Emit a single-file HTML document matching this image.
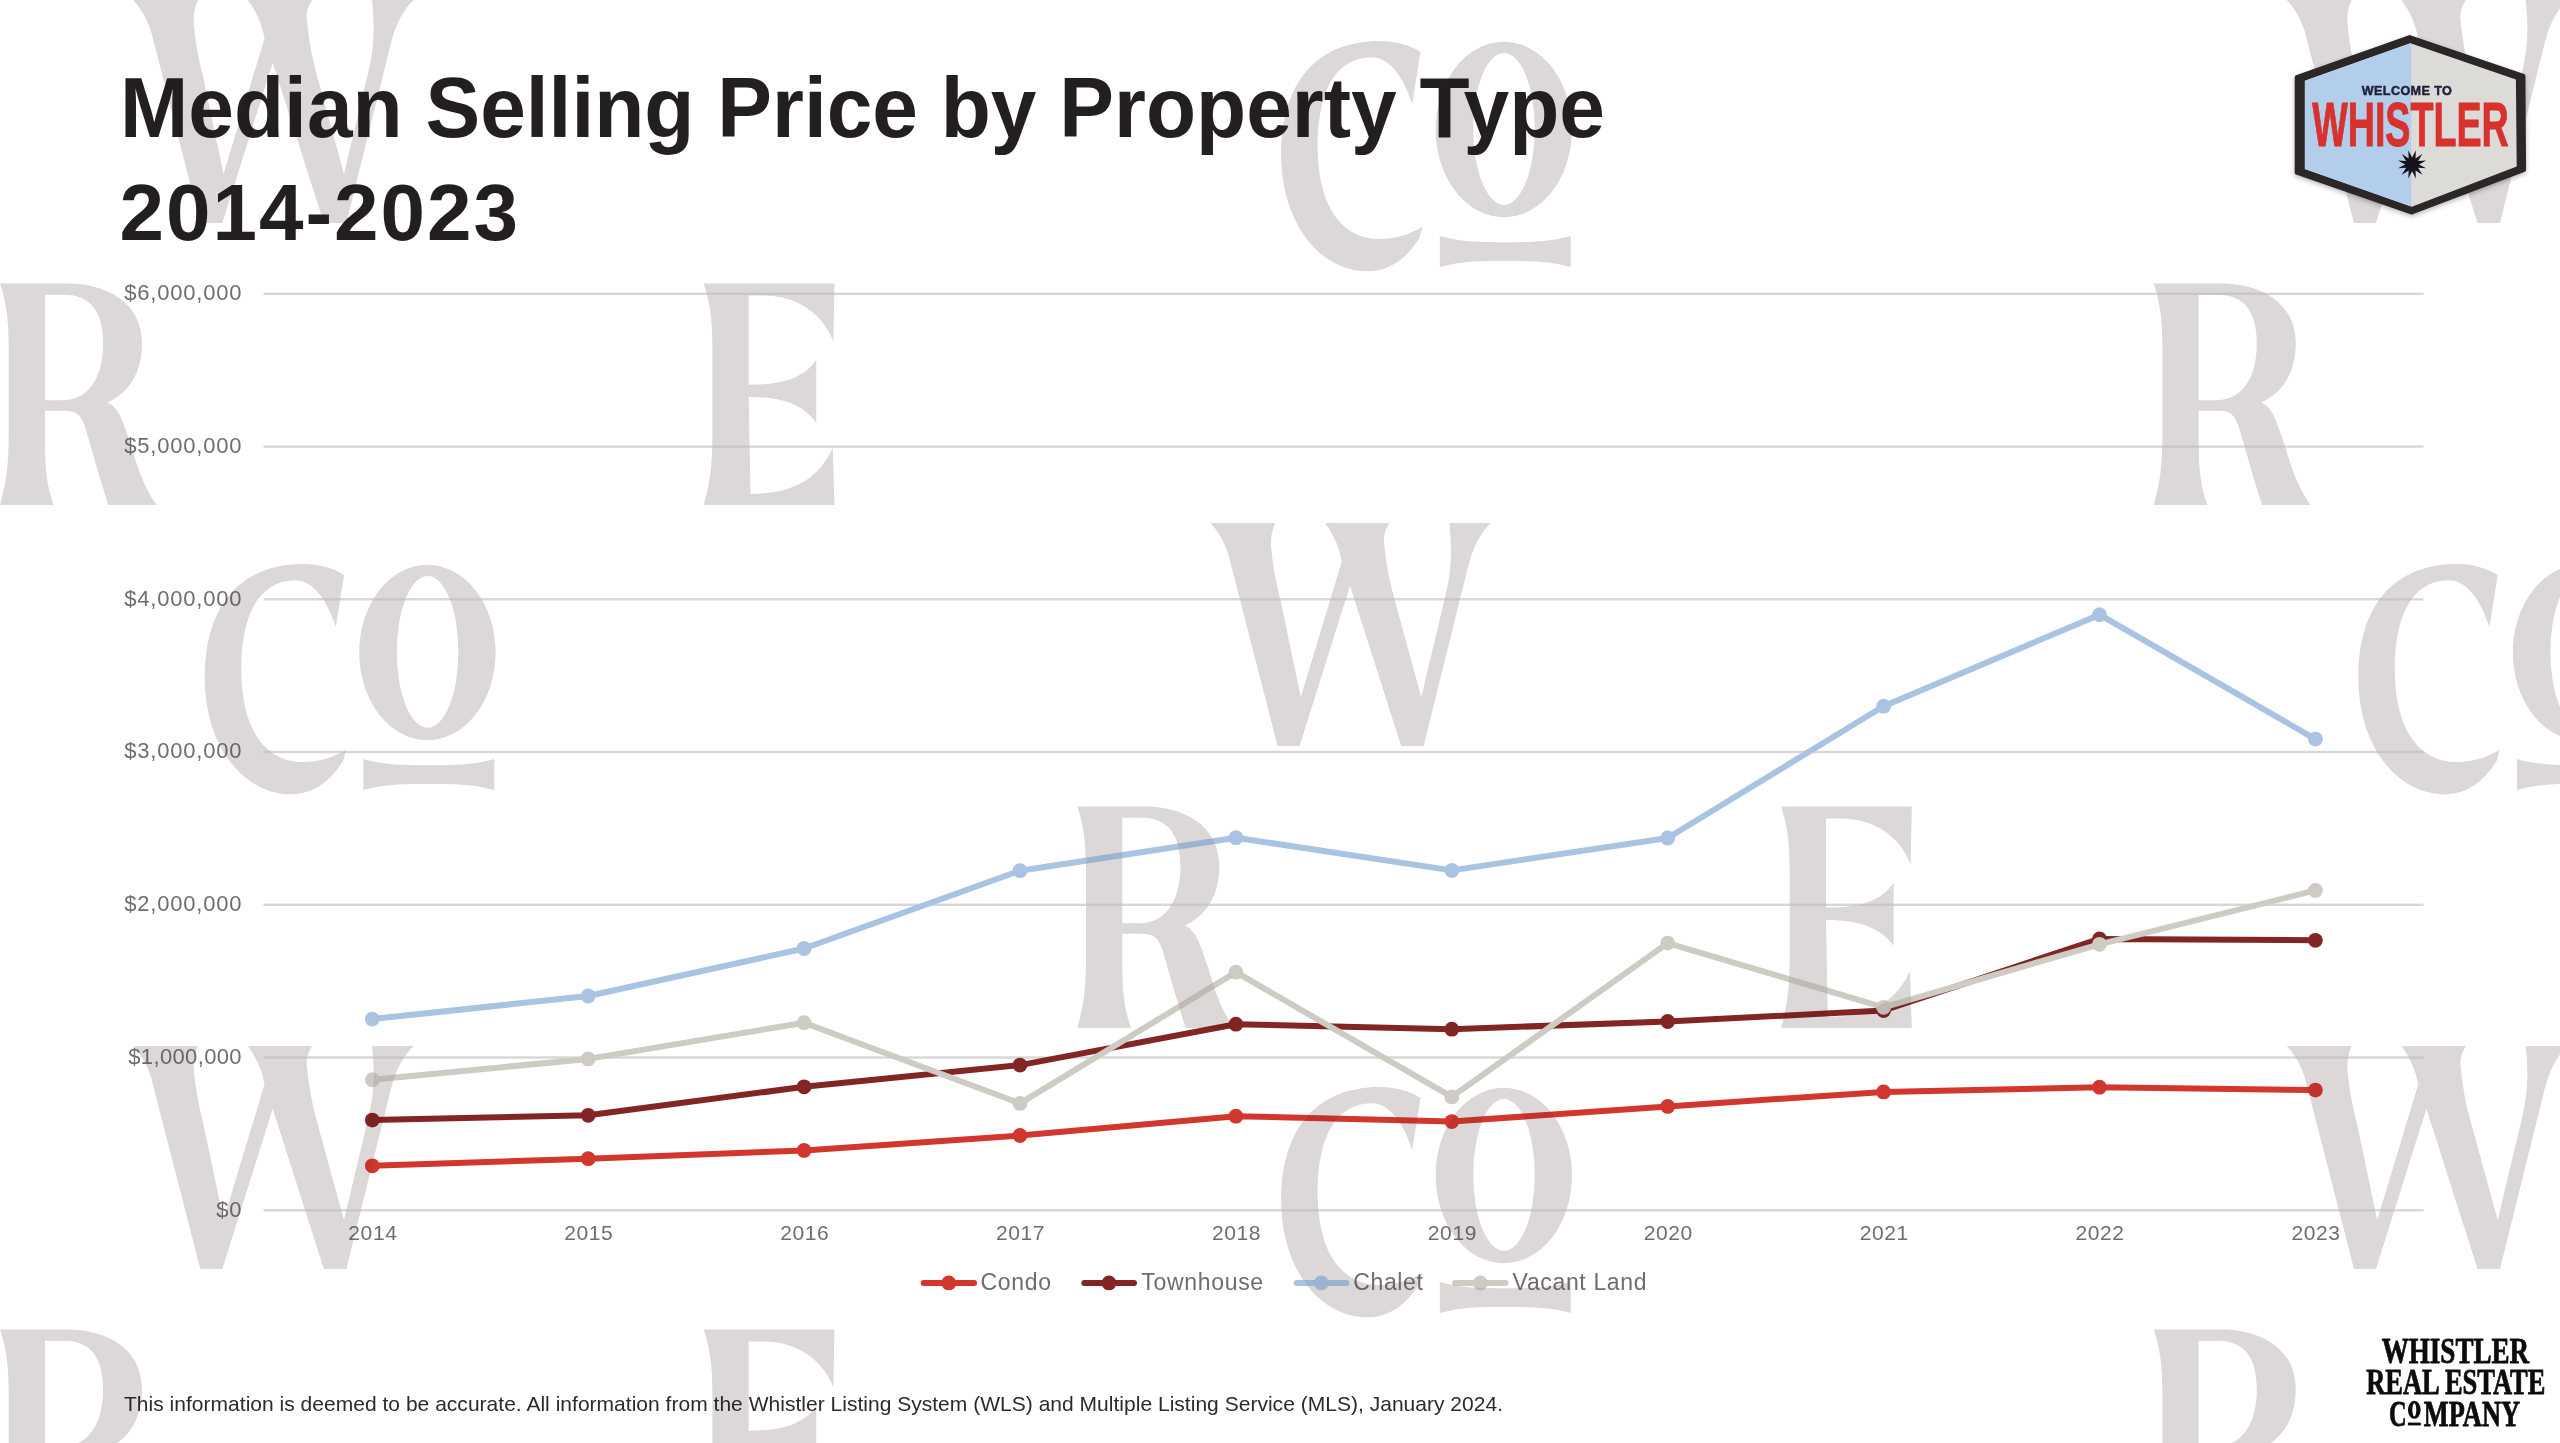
<!DOCTYPE html>
<html><head><meta charset="utf-8"><title>Median Selling Price by Property Type 2014-2023</title>
<style>
html,body{margin:0;padding:0;background:#fff;}
body{width:2560px;height:1443px;position:relative;overflow:hidden;font-family:"Liberation Sans",sans-serif;}
svg{position:absolute;left:0;top:0;}
.t{position:absolute;white-space:nowrap;}
.title{position:absolute;left:120px;font-weight:bold;font-size:81px;color:#231f20;white-space:nowrap;line-height:1;transform-origin:0 0;}
.yl{position:absolute;left:40px;width:202.3px;letter-spacing:0.8px;text-align:right;font-size:22px;line-height:28px;color:#716d6c;white-space:nowrap;}
.xl{position:absolute;top:1219.3px;width:80px;padding-left:0.6px;text-align:center;letter-spacing:0.6px;font-size:21px;line-height:28px;color:#716d6c;}
.lg{position:absolute;top:1266px;font-size:23px;line-height:32px;color:#716d6c;white-space:nowrap;}
.foot{position:absolute;left:124px;top:1390.5px;font-size:21px;letter-spacing:0.02px;line-height:26px;color:#2d2a2b;white-space:nowrap;transform-origin:0 0;}
.wm{mix-blend-mode:multiply;}
</style></head><body>
<!--WATERMARK (bottom)-->
<svg width="2560" height="1443" viewBox="0 0 2560 1443">
<defs>
<path id="w" d="M0,0 L64.9,0 Q60,11 60.7,23 Q63,50 70.1,76.7 L90.5,174 L131.5,38.5 Q128,18 114.9,0 L179.2,0 Q172.5,10 173.8,20 Q177,52 184.3,76.7 L211,174 L236,69 Q243.5,38 239,0 L280.5,0 Q265,15 258.2,42 L213.3,223 L190.9,223 L139.7,62.8 L89.3,223 L67.3,223 L18.1,31.6 Q12,12 0,0 Z"/>
<path id="r" fill-rule="evenodd" d="M0,0 L67.6,0 C105,0 142,18 142,59.8 C142,90 128,110 107.4,119 C119,124 123,138 129.9,158.5 C138,185 143,202 156.8,221.7 L108.3,221.7 C100,196 93,170 84.9,142.9 C81,131 76,127.3 64,127.3 L45,127.3 L45,160 C45,190 48,205 53.7,221.7 L0,221.7 C6,200 8.7,185 8.7,149.8 L8.7,63.2 C8.7,35 6,18 0,0 Z M45,11.3 L64,11.3 C92,11.3 103.1,30 103.1,59.8 C103.1,95 88,116.9 62,116.9 L45,116.9 Z"/>
<path id="e" d="M0,0 L130.8,0 L129.6,58 C120,32 95,12.1 60,12.1 L45,12.1 L45,101.3 C80,101.3 100,95 112.6,76.2 L112.6,139.4 C100,122 80,113.5 45,113.5 L46.8,210.5 C90,210.5 115,195 129,164.6 L130.8,221.7 L0,221.7 C6,200 8.7,185 8.7,149.8 L8.7,63.2 C8.7,35 6,18 0,0 Z"/>
<g id="co"><path d="M139.3,11 L131,63 C122,35 108,16.2 90.4,16.2 C55,16.2 36.4,50 36.4,105 C36.4,165 60,198.1 98.7,198.1 C115,198.1 130,193 141.3,185.6 L138.2,197 C125,218 108,230.3 86.3,230.3 C38,230.3 0,181 0,113.9 C0,41 36,0 98.7,0 C115,0 128,4 139.3,11 Z"/><path fill-rule="evenodd" d="M154.4,88.5 A68.2,87.7 0 1,0 290.8,88.5 A68.2,87.7 0 1,0 154.4,88.5 Z M192,87.9 A30.8,75.9 0 1,1 253.6,87.9 A30.8,75.9 0 1,1 192,87.9 Z"/><path d="M158.6,195 C180,201.2 200,201.2 224,201.2 C248,201.2 268,201.2 289.5,195 L289.5,226.1 C268,219.9 248,219.9 224,219.9 C200,219.9 180,219.9 158.6,226.1 Z"/></g>
</defs>
<g id="wmall" fill="#edebeb">
<use href="#w" x="133.0" y="0.0"/>
<use href="#co" x="1281.2" y="41.0"/>
<use href="#r" x="0.0" y="283.4"/>
<use href="#e" x="703.7" y="283.4"/>
<use href="#w" x="133.0" y="1046.0"/>
<use href="#co" x="1281.2" y="1087.0"/>
<use href="#r" x="0.0" y="1329.4"/>
<use href="#e" x="703.7" y="1329.4"/>
<use href="#w" x="2286.7" y="0.0"/>
<use href="#r" x="2153.7" y="283.4"/>
<use href="#w" x="2286.7" y="1046.0"/>
<use href="#r" x="2153.7" y="1329.4"/>
<use href="#co" x="204.8" y="564.0"/>
<use href="#r" x="1077.3" y="-239.6"/>
<use href="#e" x="1781.0" y="-239.6"/>
<use href="#w" x="1210.3" y="523.0"/>
<use href="#co" x="2358.4" y="564.0"/>
<use href="#r" x="1077.3" y="806.4"/>
<use href="#e" x="1781.0" y="806.4"/>
</g>
</svg>
<!--CHART-->
<svg width="2560" height="1443" viewBox="0 0 2560 1443">
<rect x="263.5" y="292.6" width="2160" height="2.4" fill="#d8d7d7"/>
<rect x="263.5" y="445.4" width="2160" height="2.4" fill="#d8d7d7"/>
<rect x="263.5" y="598.1" width="2160" height="2.4" fill="#d8d7d7"/>
<rect x="263.5" y="750.8" width="2160" height="2.4" fill="#d8d7d7"/>
<rect x="263.5" y="903.6" width="2160" height="2.4" fill="#d8d7d7"/>
<rect x="263.5" y="1056.3" width="2160" height="2.4" fill="#d8d7d7"/>
<rect x="263.5" y="1209.1" width="2160" height="2.4" fill="#d8d7d7"/>
<polyline points="372.3,1165.8 588.2,1158.7 804.1,1150.4 1020.0,1135.5 1235.9,1116.2 1451.8,1121.6 1667.7,1106.4 1883.6,1091.9 2099.5,1087.2 2315.4,1090.1" fill="none" stroke="#d2372e" stroke-width="6" stroke-linejoin="round" stroke-linecap="round"/>
<circle cx="372.3" cy="1165.8" r="7.4" fill="#d2372e"/>
<circle cx="588.2" cy="1158.7" r="7.4" fill="#d2372e"/>
<circle cx="804.1" cy="1150.4" r="7.4" fill="#d2372e"/>
<circle cx="1020.0" cy="1135.5" r="7.4" fill="#d2372e"/>
<circle cx="1235.9" cy="1116.2" r="7.4" fill="#d2372e"/>
<circle cx="1451.8" cy="1121.6" r="7.4" fill="#d2372e"/>
<circle cx="1667.7" cy="1106.4" r="7.4" fill="#d2372e"/>
<circle cx="1883.6" cy="1091.9" r="7.4" fill="#d2372e"/>
<circle cx="2099.5" cy="1087.2" r="7.4" fill="#d2372e"/>
<circle cx="2315.4" cy="1090.1" r="7.4" fill="#d2372e"/>
<polyline points="372.3,1120.1 588.2,1115.3 804.1,1086.8 1020.0,1065.1 1235.9,1024.2 1451.8,1029.2 1667.7,1021.5 1883.6,1010.5 2099.5,938.9 2315.4,940.3" fill="none" stroke="#832524" stroke-width="6" stroke-linejoin="round" stroke-linecap="round"/>
<circle cx="372.3" cy="1120.1" r="7.4" fill="#832524"/>
<circle cx="588.2" cy="1115.3" r="7.4" fill="#832524"/>
<circle cx="804.1" cy="1086.8" r="7.4" fill="#832524"/>
<circle cx="1020.0" cy="1065.1" r="7.4" fill="#832524"/>
<circle cx="1235.9" cy="1024.2" r="7.4" fill="#832524"/>
<circle cx="1451.8" cy="1029.2" r="7.4" fill="#832524"/>
<circle cx="1667.7" cy="1021.5" r="7.4" fill="#832524"/>
<circle cx="1883.6" cy="1010.5" r="7.4" fill="#832524"/>
<circle cx="2099.5" cy="938.9" r="7.4" fill="#832524"/>
<circle cx="2315.4" cy="940.3" r="7.4" fill="#832524"/>
<polyline points="372.3,1019.1 588.2,996.0 804.1,948.5 1020.0,870.7 1235.9,837.7 1451.8,870.4 1667.7,838.0 1883.6,706.2 2099.5,614.7 2315.4,739.1" fill="none" stroke="#a9c3e3" stroke-width="6" stroke-linejoin="round" stroke-linecap="round"/>
<circle cx="372.3" cy="1019.1" r="7.4" fill="#a9c3e3"/>
<circle cx="588.2" cy="996.0" r="7.4" fill="#a9c3e3"/>
<circle cx="804.1" cy="948.5" r="7.4" fill="#a9c3e3"/>
<circle cx="1020.0" cy="870.7" r="7.4" fill="#a9c3e3"/>
<circle cx="1235.9" cy="837.7" r="7.4" fill="#a9c3e3"/>
<circle cx="1451.8" cy="870.4" r="7.4" fill="#a9c3e3"/>
<circle cx="1667.7" cy="838.0" r="7.4" fill="#a9c3e3"/>
<circle cx="1883.6" cy="706.2" r="7.4" fill="#a9c3e3"/>
<circle cx="2099.5" cy="614.7" r="7.4" fill="#a9c3e3"/>
<circle cx="2315.4" cy="739.1" r="7.4" fill="#a9c3e3"/>
<polyline points="372.3,1079.7 588.2,1058.9 804.1,1022.7 1020.0,1103.4 1235.9,972.2 1451.8,1096.9 1667.7,943.1 1883.6,1007.3 2099.5,944.3 2315.4,890.4" fill="none" stroke="#cecbc4" stroke-width="6" stroke-linejoin="round" stroke-linecap="round"/>
<circle cx="372.3" cy="1079.7" r="7.4" fill="#cecbc4"/>
<circle cx="588.2" cy="1058.9" r="7.4" fill="#cecbc4"/>
<circle cx="804.1" cy="1022.7" r="7.4" fill="#cecbc4"/>
<circle cx="1020.0" cy="1103.4" r="7.4" fill="#cecbc4"/>
<circle cx="1235.9" cy="972.2" r="7.4" fill="#cecbc4"/>
<circle cx="1451.8" cy="1096.9" r="7.4" fill="#cecbc4"/>
<circle cx="1667.7" cy="943.1" r="7.4" fill="#cecbc4"/>
<circle cx="1883.6" cy="1007.3" r="7.4" fill="#cecbc4"/>
<circle cx="2099.5" cy="944.3" r="7.4" fill="#cecbc4"/>
<circle cx="2315.4" cy="890.4" r="7.4" fill="#cecbc4"/>
<line x1="923.7" y1="1282.9" x2="974.1" y2="1282.9" stroke="#d2372e" stroke-width="6" stroke-linecap="round"/>
<circle cx="948.8" cy="1282.9" r="7.4" fill="#d2372e"/>
<line x1="1084.3" y1="1282.9" x2="1134" y2="1282.9" stroke="#832524" stroke-width="6" stroke-linecap="round"/>
<circle cx="1109" cy="1282.9" r="7.4" fill="#832524"/>
<line x1="1296.7" y1="1282.9" x2="1346.4" y2="1282.9" stroke="#a9c3e3" stroke-width="6" stroke-linecap="round"/>
<circle cx="1321.4" cy="1282.9" r="7.4" fill="#a9c3e3"/>
<line x1="1455.1" y1="1282.9" x2="1505.5" y2="1282.9" stroke="#cecbc4" stroke-width="6" stroke-linecap="round"/>
<circle cx="1480.4" cy="1282.9" r="7.4" fill="#cecbc4"/>
</svg>
<!--TEXT-->
<div class="title" id="t1" style="left:119.9px;top:64.7px;font-size:85px;transform:scaleX(0.9653)">Median Selling Price by Property Type</div>
<div class="title" id="t2" style="left:119.5px;top:173.2px;font-size:80px;letter-spacing:2px">2014-2023</div>
<div class="yl" style="top:279.1px">$6,000,000</div>
<div class="yl" style="top:431.9px">$5,000,000</div>
<div class="yl" style="top:584.6px">$4,000,000</div>
<div class="yl" style="top:737.3px">$3,000,000</div>
<div class="yl" style="top:890.1px">$2,000,000</div>
<div class="yl" style="top:1042.8px;letter-spacing:0.35px;width:201.9px">$1,000,000</div>
<div class="yl" style="top:1195.6px">$0</div>
<div class="xl" style="left:332.3px">2014</div>
<div class="xl" style="left:548.2px">2015</div>
<div class="xl" style="left:764.1px">2016</div>
<div class="xl" style="left:980.0px">2017</div>
<div class="xl" style="left:1195.9px">2018</div>
<div class="xl" style="left:1411.8px">2019</div>
<div class="xl" style="left:1627.7px">2020</div>
<div class="xl" style="left:1843.6px">2021</div>
<div class="xl" style="left:2059.5px">2022</div>
<div class="xl" style="left:2275.4px">2023</div>
<div class="lg" style="left:980.4px;letter-spacing:0.7px">Condo</div>
<div class="lg" style="left:1141.2px;letter-spacing:0.7px">Townhouse</div>
<div class="lg" style="left:1353.2px;letter-spacing:0.65px">Chalet</div>
<div class="lg" style="left:1512.6px;letter-spacing:0.65px">Vacant Land</div>
<div class="foot" id="foot">This information is deemed to be accurate. All information from the Whistler Listing System (WLS) and Multiple Listing Service (MLS), January 2024.</div>
<!--WATERMARK (top, multiply)-->
<svg class="wm" width="2560" height="1443" viewBox="0 0 2560 1443">
<use href="#wmall"/>
</svg>
<svg width="2560" height="1443" viewBox="0 0 2560 1443" style="filter:drop-shadow(0px 2px 2.5px rgba(0,0,0,0.28))">
<polygon points="2409.7,37.1 2523.4,75.8 2524.1,169.8 2411.9,212.5 2296.7,172.7 2296.7,77.2" fill="#2b2728" stroke="#2b2728" stroke-width="4" stroke-linejoin="round"/>
<polygon points="2410.4,43.2 2515.9,79.6 2516.7,166.6 2411.9,206.7 2304.9,169.0 2304.9,80.7" fill="#dddbd7"/>
<polygon points="2410.4,43.2 2411.2,43.5 2411.2,206.4 2304.9,169.0 2304.9,80.7" fill="#b3ceeb"/>
<text x="2361.7" y="94.8" font-family="Liberation Sans, sans-serif" font-weight="bold" font-size="12.6" fill="#1d2238" stroke="#1d2238" stroke-width="0.5" textLength="90.2" lengthAdjust="spacing">WELCOME TO</text>
<text x="2312.2" y="145.7" font-family="Liberation Sans, sans-serif" font-weight="bold" font-size="62.4" fill="#d7322e" stroke="#d7322e" stroke-width="1" stroke-linejoin="round" textLength="196.5" lengthAdjust="spacingAndGlyphs">WHISTLER</text>
<polygon points="2415.9,150.3 2415.5,158.4 2422.4,154.1 2418.1,161.0 2426.2,160.6 2419.0,164.4 2426.2,168.2 2418.1,167.8 2422.4,174.7 2415.5,170.4 2415.9,178.5 2412.1,171.3 2408.3,178.5 2408.7,170.4 2401.8,174.7 2406.1,167.8 2398.0,168.2 2405.2,164.4 2398.0,160.6 2406.1,161.0 2401.8,154.1 2408.7,158.4 2408.3,150.3 2412.1,157.5" fill="#15141a"/>
</svg>
<svg width="2560" height="1443" viewBox="0 0 2560 1443">
<g font-family="Liberation Serif, serif" font-weight="bold" font-size="36.6" fill="#0c0c0c" stroke="#0c0c0c" stroke-width="0.8" stroke-linejoin="round">
<text x="2381.7" y="1362.5" textLength="147.4" lengthAdjust="spacingAndGlyphs">WHISTLER</text>
<text x="2366.2" y="1393.9" textLength="179.2" lengthAdjust="spacingAndGlyphs">REAL ESTATE</text>
<text x="2389" y="1425.7" textLength="17.6" lengthAdjust="spacingAndGlyphs">C</text>
<text x="2423.8" y="1425.7" textLength="96.2" lengthAdjust="spacingAndGlyphs">MPANY</text>
</g>
<path fill="#0c0c0c" fill-rule="evenodd" d="M2407.9,1409.8 a6.4,9 0 1,0 12.8,0 a6.4,9 0 1,0 -12.8,0 Z M2412.3,1409.8 a2.0,6.6 0 1,1 4.0,0 a2.0,6.6 0 1,1 -4.0,0 Z"/>
<rect x="2407.9" y="1422.6" width="12.9" height="2.8" fill="#0c0c0c"/>
</svg>
</body></html>
